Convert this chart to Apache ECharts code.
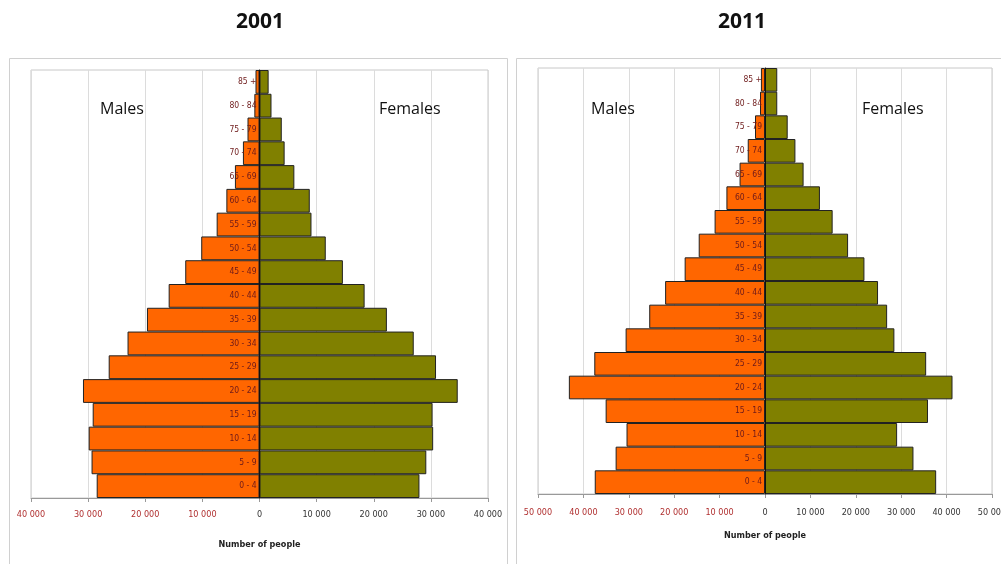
<!DOCTYPE html>
<html>
<head>
<meta charset="utf-8">
<script src="https://cdn.jsdelivr.net/npm/echarts@6/dist/echarts.min.js"></script>
<style>
  html, body { margin: 0; padding: 0; background: #fff; }
  #main { width: 1001px; height: 564px; }
</style>
</head>
<body>
<div id="main"></div>
<script>
// age groups, bottom to top
const ageGroups = ['0 - 4', '5 - 9', '10 - 14', '15 - 19', '20 - 24', '25 - 29', '30 - 34', '35 - 39',
  '40 - 44', '45 - 49', '50 - 54', '55 - 59', '60 - 64', '65 - 69', '70 - 74', '75 - 79', '80 - 84', '85 +'];

const males2001   = [28500, 29400, 29900, 29200, 30900, 26400, 23100, 19700, 15900, 13000, 10200, 7500, 5800, 4300, 2900, 2100, 900, 700];
const females2001 = [28000, 29200, 30400, 30300, 34700, 30900, 27000, 22300, 18400, 14600, 11600, 9100, 8800, 6100, 4400, 3900, 2100, 1600];
const males2011   = [37500, 32900, 30500, 35100, 43200, 37600, 30700, 25500, 22000, 17700, 14600, 11100, 8500, 5600, 3800, 2200, 1100, 900];
const females2011 = [37700, 32700, 29100, 35900, 41300, 35500, 28500, 26900, 24900, 21900, 18300, 14900, 12100, 8500, 6700, 5000, 2700, 2700];

const years = ['2001', '2011'];
const axisMax = [40000, 50000];

const chart = echarts.init(document.getElementById('main'));

function fmt(v) {
  const s = String(Math.abs(v)).replace(/\B(?=(\d{3})+(?!\d))/g, ' ');
  return v < 0 ? '{n|' + s + '}' : '{p|' + s + '}';
}

const smallFont = '"Liberation Sans Narrow", "DejaVu Sans Condensed", sans-serif';
const gridWidth = [457, 454];

function xAxisFor(i, margin, gap) {
  return {
    type: 'value', gridIndex: i,
    min: -axisMax[i], max: axisMax[i], interval: 10000,
    name: 'Number of people', nameLocation: 'middle', nameGap: gap,
    nameTextStyle: { fontFamily: smallFont, fontSize: 9, fontWeight: 'bold', color: '#222' },
    axisLine: { show: true, lineStyle: { color: '#999' } },
    axisTick: { show: true, length: 4, lineStyle: { color: '#999' } },
    splitLine: { show: true, lineStyle: { color: '#dcdcdc' } },
    axisLabel: {
      margin: margin, formatter: fmt,
      rich: {
        n: { color: '#b03030', fontFamily: smallFont, fontSize: 9 },
        p: { color: '#333', fontFamily: smallFont, fontSize: 9 }
      }
    }
  };
}

function yAxisFor(i) {
  return {
    type: 'category', gridIndex: i, data: ageGroups, z: 10,
    // put the category axis line on the zero of the value axis
    offset: -gridWidth[i] / 2,
    axisLine: { show: true, onZero: false, lineStyle: { color: '#111', width: 1 } },
    axisTick: { show: false },
    splitLine: { show: false },
    axisLabel: { show: false }
  };
}

function barSeries(i, values, sign, color) {
  const s = {
    type: 'bar', xAxisIndex: i, yAxisIndex: i,
    data: values.map(v => v * sign),
    barGap: '-100%', barCategoryGap: 0,
    itemStyle: { color: color, borderColor: '#222', borderWidth: 1 },
    silent: true
  };
  if (sign < 0) {
    // age group names sit just left of the zero line
    s.label = {
      show: true, position: 'insideRight', distance: 3,
      formatter: p => ageGroups[p.dataIndex],
      color: '#6e1a1a', fontFamily: smallFont, fontSize: 8.5
    };
  }
  return s;
}

chart.setOption({
  backgroundColor: '#fff',
  animation: false,
  title: [
    { text: years[0], left: 231, top: 7,
      textStyle: { fontSize: 21, fontWeight: 'bold', color: '#111', fontFamily: '"Open Sans", sans-serif' } },
    { text: years[1], left: 713, top: 7,
      textStyle: { fontSize: 21, fontWeight: 'bold', color: '#111', fontFamily: '"Open Sans", sans-serif' } }
  ],
  grid: [
    { left: 31, top: 70, width: gridWidth[0], height: 428, show: true, borderColor: '#c8c8c8', borderWidth: 1,
      outerBoundsMode: 'none', containLabel: false },
    { left: 538, top: 68, width: gridWidth[1], height: 426, show: true, borderColor: '#c8c8c8', borderWidth: 1,
      outerBoundsMode: 'none', containLabel: false }
  ],
  xAxis: [xAxisFor(0, 12, 42), xAxisFor(1, 14, 37)],
  yAxis: [yAxisFor(0), yAxisFor(1)],
  series: [
    barSeries(0, males2001, -1, '#ff6600'),
    barSeries(0, females2001, 1, '#808000'),
    barSeries(1, males2011, -1, '#ff6600'),
    barSeries(1, females2011, 1, '#808000')
  ],
  graphic: [
    { type: 'rect', shape: { x: 9.5, y: 58.5, width: 498, height: 520 }, z: -10,
      style: { fill: 'none', stroke: '#d0d0d0', lineWidth: 1 } },
    { type: 'rect', shape: { x: 516.5, y: 58.5, width: 500, height: 520 }, z: -10,
      style: { fill: 'none', stroke: '#d0d0d0', lineWidth: 1 } },
    { type: 'text', left: 100, top: 101, z: 20,
      style: { text: 'Males', fontSize: 16, fill: '#111', fontFamily: '"Open Sans", sans-serif' } },
    { type: 'text', left: 379, top: 101, z: 20,
      style: { text: 'Females', fontSize: 16, fill: '#111', fontFamily: '"Open Sans", sans-serif' } },
    { type: 'text', left: 591, top: 101, z: 20,
      style: { text: 'Males', fontSize: 16, fill: '#111', fontFamily: '"Open Sans", sans-serif' } },
    { type: 'text', left: 862, top: 101, z: 20,
      style: { text: 'Females', fontSize: 16, fill: '#111', fontFamily: '"Open Sans", sans-serif' } }
  ]
});
</script>
</body>
</html>
